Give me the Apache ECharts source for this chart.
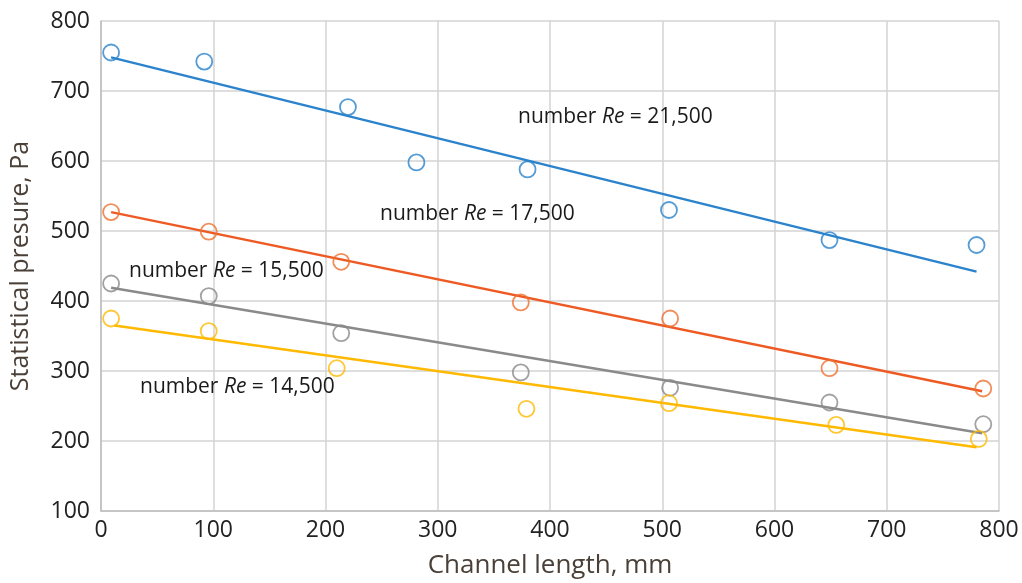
<!DOCTYPE html>
<html>
<head>
<meta charset="utf-8">
<script src="https://cdn.jsdelivr.net/npm/echarts@6/dist/echarts.min.js"></script>
<style>html,body{margin:0;padding:0;background:#fff;}#c{width:1022px;height:583px;}</style>
</head>
<body>
<div id="c"></div>
<script>
// Measured points [channel length mm, pressure Pa]
const re21500 = [[9,755],[92,742],[220,677],[281,598],[380,588],[506,530],[649,487],[780,480]];
const re17500 = [[9,527],[96,499],[214,456],[374,398],[507,375],[649,304],[786,275]];
const re15500 = [[9,425],[96,407],[214,354],[374,298],[507,276],[649,255],[786,224]];
const re14500 = [[9,375],[96,357],[210,304],[379,246],[506,254],[655,223],[782,203]];
// Trend lines (start / end)
const trend21500 = [[9,748],[780,442]];
const trend17500 = [[9,527],[785,271]];
const trend15500 = [[9,419],[785,211]];
const trend14500 = [[12,365],[780,191]];
const labels = ['21,500','17,500','15,500','14,500'];

const C = {blue:'#2A83CC', orange:'#EE5A24', orangeM:'#EE7030', gray:'#8A8A8A', yellow:'#FFB900'};
const F = '"Open Sans", sans-serif';

function sc(data, color){
  return {type:'scatter', data, symbol:'circle', symbolSize:16,
    itemStyle:{color:'rgba(255,255,255,0)', borderColor:color, borderWidth:1.8}, z:3};
}
function ln(data, color){
  return {type:'line', data, showSymbol:false, lineStyle:{color, width:2.5}, z:2, silent:true};
}
function lbl(x, y, num){
  return {type:'text', left:x, top:y, z:10, style:{
    text:'{a|number }{b|Re}{a| = ' + num + '}',
    rich:{a:{fontFamily:F, fontSize:21, fill:'#1a1a1a'}, b:{fontFamily:F, fontSize:21, fontStyle:'italic', fill:'#1a1a1a'}}
  }};
}

const chart = echarts.init(document.getElementById('c'));
chart.setOption({
  animation:false,
  grid:{left:101, right:23, top:21, bottom:72, containLabel:false, outerBoundsMode:'none'},
  xAxis:{type:'value', min:0, max:800, interval:100,
    name:'Channel length, mm', nameLocation:'middle', nameGap:42,
    nameTextStyle:{fontFamily:F, fontSize:26, color:'#4a4038'},
    axisLine:{lineStyle:{color:'#BDBDBD', width:1.5}}, axisTick:{show:false},
    axisLabel:{fontFamily:F, fontSize:23, color:'#222', margin:8},
    splitLine:{lineStyle:{color:'#D3D3D3', width:1.5}}},
  yAxis:{type:'value', min:100, max:800, interval:100,
    name:'Statistical presure, Pa', nameLocation:'middle', nameGap:68,
    nameTextStyle:{fontFamily:F, fontSize:25, color:'#4a4038'},
    axisLine:{show:true, lineStyle:{color:'#BDBDBD', width:1.5}}, axisTick:{show:false},
    axisLabel:{fontFamily:F, fontSize:23, color:'#222', margin:11},
    splitLine:{lineStyle:{color:'#D3D3D3', width:1.5}}},
  series:[
    ln(trend21500, C.blue), sc(re21500, C.blue),
    ln(trend17500, C.orange), sc(re17500, C.orangeM),
    ln(trend15500, C.gray), sc(re15500, C.gray),
    ln(trend14500, C.yellow), sc(re14500, C.yellow)
  ],
  graphic:[lbl(518,107,labels[0]), lbl(380,204,labels[1]), lbl(129,261,labels[2]), lbl(140,377,labels[3])]
});
</script>
</body>
</html>
